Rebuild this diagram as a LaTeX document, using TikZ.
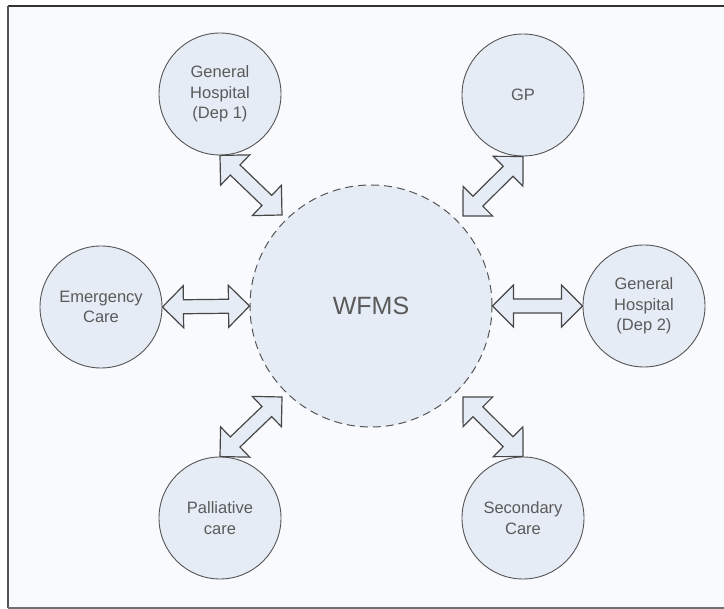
\documentclass[tikz,border=0pt]{standalone}
\usepackage{fontspec}
\setmainfont{Liberation Sans}
\usetikzlibrary{calc}

\definecolor{pagebg}{HTML}{F8FAFE}
\definecolor{bubble}{HTML}{E6ECF6}
\definecolor{rim}{HTML}{555555}
\definecolor{ink}{HTML}{5A5A5A}
\definecolor{framecol}{HTML}{333333}

\tikzset{
  party/.style={circle, draw=rim, line width=0.9pt, fill=bubble, inner sep=0pt,
    minimum size=122pt, align=center, text=ink,
    font=\fontsize{16.5}{20.5}\selectfont},
  hub/.style={circle, draw=rim, line width=1pt, dash pattern=on 8pt off 5pt,
    fill=bubble, inner sep=0pt, minimum size=242pt, text=ink,
    font=\fontsize{25}{30}\selectfont},
  blockarrow/.style={draw=framecol!90, line width=1.2pt, fill=bubble, line join=miter}
}

% double-headed block arrow between two named points
\newcommand\linkarrow[2]{%
  \draw[blockarrow] (#1)
    -- ($(#1)!21pt!(#2)!21pt!90:(#2)$)
    -- ($(#1)!21pt!(#2)!7pt!90:(#2)$)
    -- ($(#2)!21pt!(#1)!7pt!-90:(#1)$)
    -- ($(#2)!21pt!(#1)!21pt!-90:(#1)$)
    -- (#2)
    -- ($(#2)!21pt!(#1)!21pt!90:(#1)$)
    -- ($(#2)!21pt!(#1)!7pt!90:(#1)$)
    -- ($(#1)!21pt!(#2)!7pt!-90:(#2)$)
    -- ($(#1)!21pt!(#2)!21pt!-90:(#2)$)
    -- cycle;}

\begin{document}
\begin{tikzpicture}[x=1pt, y=-1pt]
  \useasboundingbox (0,0) rectangle (724,609);
  \fill[white] (0,0) rectangle (724,609);
  \fill[pagebg] (8,6) rectangle (724,608);
  \draw[framecol, line width=1.6pt] (8,6) -- (724,6);
  \draw[framecol!85, line width=1.4pt] (8,6) -- (8,608);
  \draw[framecol!70, line width=1.4pt] (8,608) -- (724,608);

  % central system
  \node[hub] (W) at (371,306) {WFMS};

  % surrounding parties
  \node[party] (GH1) at (220,94)  {General\\Hospital\\(Dep 1)};
  \node[party] (GP)  at (523,95)  {GP};
  \node[party] (EC)  at (101,307) {Emergency\\Care};
  \node[party] (GH2) at (644,306) {General\\Hospital\\(Dep 2)};
  \node[party] (PC)  at (220,518) {Palliative\\care};
  \node[party] (SC)  at (523,518) {Secondary\\Care};

  % arrow ends on the hub side
  \coordinate (wNW) at (282,215);
  \coordinate (wNE) at (463,216);
  \coordinate (wSW) at (282,397);
  \coordinate (wSE) at (463,397);

  \linkarrow{GH1.south}{wNW}
  \linkarrow{GP.south}{wNE}
  \linkarrow{EC.east}{W.west}
  \linkarrow{W.east}{GH2.west}
  \linkarrow{PC.north}{wSW}
  \linkarrow{SC.north}{wSE}
\end{tikzpicture}
\end{document}
